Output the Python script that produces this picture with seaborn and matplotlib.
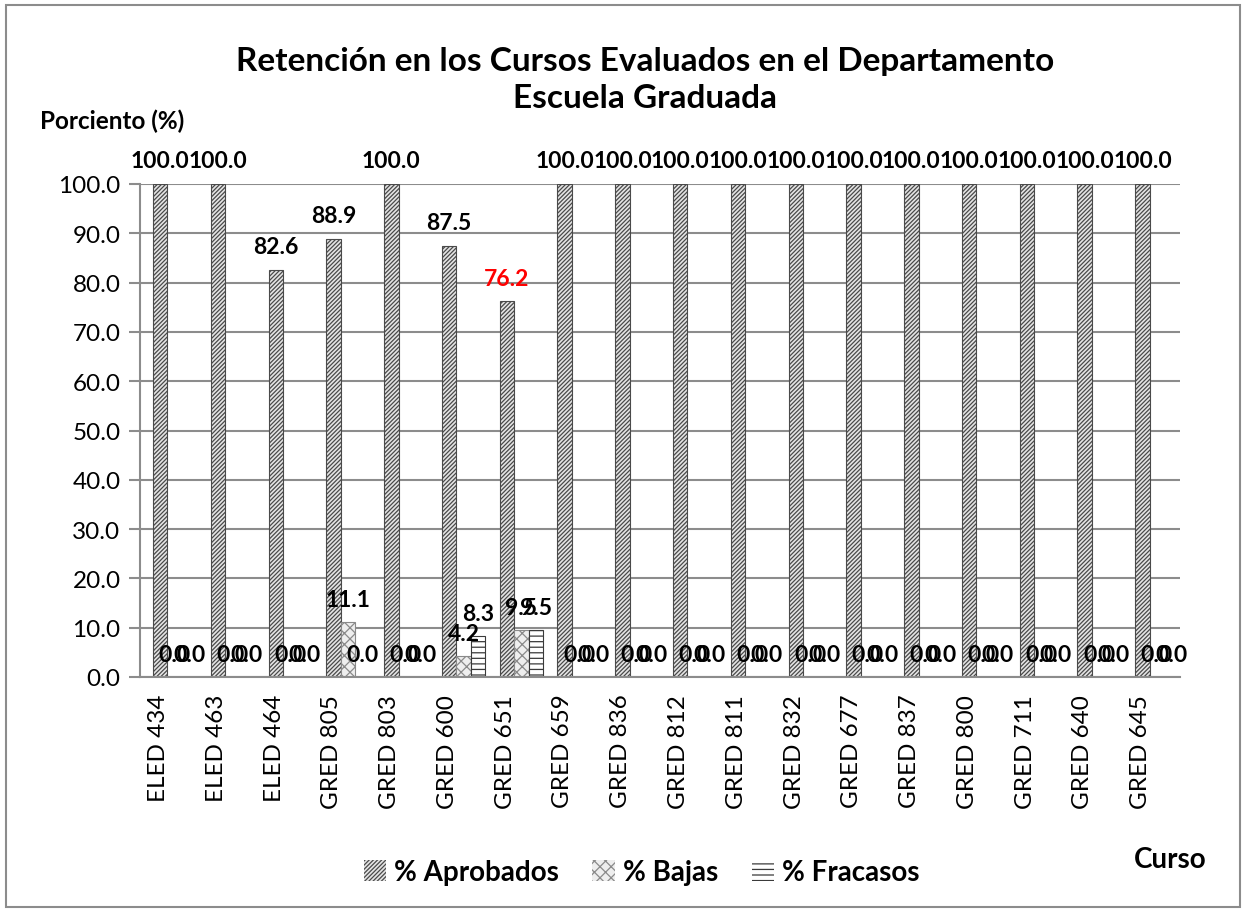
import matplotlib
matplotlib.use("Agg")
import matplotlib.pyplot as plt
import matplotlib.patches as mpatches
import seaborn as sns
import pandas as pd

cursos = ["ELED 434", "ELED 463", "ELED 464", "GRED 805", "GRED 803", "GRED 600",
          "GRED 651", "GRED 659", "GRED 836", "GRED 812", "GRED 811", "GRED 832",
          "GRED 677", "GRED 837", "GRED 800", "GRED 711", "GRED 640", "GRED 645"]
aprobados = [100.0, 100.0, 82.6, 88.9, 100.0, 87.5, 76.2, 100.0, 100.0, 100.0,
             100.0, 100.0, 100.0, 100.0, 100.0, 100.0, 100.0, 100.0]
bajas = [0.0, 0.0, 0.0, 11.1, 0.0, 4.2, 9.5, 0.0, 0.0, 0.0,
         0.0, 0.0, 0.0, 0.0, 0.0, 0.0, 0.0, 0.0]
fracasos = [0.0, 0.0, 0.0, 0.0, 0.0, 8.3, 9.5, 0.0, 0.0, 0.0,
            0.0, 0.0, 0.0, 0.0, 0.0, 0.0, 0.0, 0.0]
series = ["% Aprobados", "% Bajas", "% Fracasos"]
y_ticks = [0, 10, 20, 30, 40, 50, 60, 70, 80, 90, 100]

df = pd.DataFrame({"Curso": cursos * 3,
                   "Serie": [series[0]] * len(cursos) + [series[1]] * len(cursos) + [series[2]] * len(cursos),
                   "Valor": aprobados + bajas + fracasos})

sns.set_theme(style="white")
plt.rcParams["font.family"] = ["Lato", "DejaVu Sans"]
plt.rcParams["hatch.linewidth"] = 0.9
plt.rcParams["text.color"] = "black"
plt.rcParams["xtick.color"] = "black"
plt.rcParams["ytick.color"] = "black"

fig = plt.figure(figsize=(12.46, 9.12), dpi=100)
ax = fig.add_axes([140 / 1246, 1 - 678 / 912, 1040 / 1246, (678 - 185) / 912])

fills = ["#e4e4e4", "#eeeeee", "white"]
sns.barplot(data=df, x="Curso", y="Valor", hue="Serie", order=cursos, hue_order=series,
            palette=fills, width=0.75, ax=ax, legend=False,
            saturation=1, linewidth=0.8)

hatches = ["////////", "xxx", "---"]
edges = ["#4a4a4a", "#8a8a8a", "#3a3a3a"]
for cont, h, ec in zip(ax.containers, hatches, edges):
    for bar in cont:
        bar.set_hatch(h)
        bar.set_edgecolor(ec)
    labels = ax.bar_label(cont, fmt="%.1f", padding=9, fontsize=16.5, fontweight="bold",
                          color="black")
    if cont is ax.containers[0]:
        for lab, v in zip(labels, aprobados):
            if v < 80:
                lab.set_color("red")

shift = 0.1
ax.set_xlim(-0.5 - shift, len(cursos) - 0.5 - shift)
ax.set_ylim(0, 100)
ax.set_yticks(y_ticks)
ax.set_yticklabels([f"{v:.1f}" for v in y_ticks], fontsize=17.5)
ax.yaxis.grid(True, color="#8c8c8c", linewidth=1.5)
ax.set_axisbelow(True)

# category labels under the first bar of each group, boundary ticks between groups
ax.set_xticks([i - 0.28 for i in range(len(cursos))])
ax.set_xticklabels(cursos, rotation=90, fontsize=17.5)
ax.tick_params(axis="x", length=0, pad=12)
ax.set_xticks([i - 0.5 - shift for i in range(len(cursos) + 1)], minor=True)
ax.tick_params(axis="x", which="minor", length=10, width=1.5, color="#8c8c8c")
ax.tick_params(axis="y", length=8, width=1.5, color="#8c8c8c", left=True, pad=6)

for s in ["top", "right"]:
    ax.spines[s].set_visible(False)
for s in ["left", "bottom"]:
    ax.spines[s].set_color("#8c8c8c")
    ax.spines[s].set_linewidth(1.5)
ax.set_xlabel("")
ax.set_ylabel("")

fig.text(0.518, 1 - 80 / 912, "Retención en los Cursos Evaluados en el Departamento\nEscuela Graduada",
         ha="center", va="center", fontsize=24, fontweight="bold", linespacing=1.3)
fig.text(40 / 1246, 1 - 121 / 912, "Porciento (%)", ha="left", va="center",
         fontsize=17.5, fontweight="bold")
fig.text(1170 / 1246, 1 - 860 / 912, "Curso", ha="center", va="center",
         fontsize=20, fontweight="bold")

handles = [mpatches.Patch(facecolor=fc, edgecolor=ec, hatch=h, linewidth=0)
           for h, ec, fc in zip(hatches, edges, fills)]
fig.legend(handles, series, loc="center", bbox_to_anchor=(0.515, 1 - 873 / 912), ncol=3,
           frameon=False, prop={"size": 20, "weight": "bold"}, handlelength=0.8,
           handleheight=0.8, handletextpad=0.3, columnspacing=1.2)

fig.patches.append(mpatches.Rectangle((6 / 1246, 4 / 912), 1234 / 1246, 902 / 912,
                                      transform=fig.transFigure, fill=False,
                                      edgecolor="#8c8c8c", linewidth=1.5))

fig.savefig("out.png", dpi=100)
